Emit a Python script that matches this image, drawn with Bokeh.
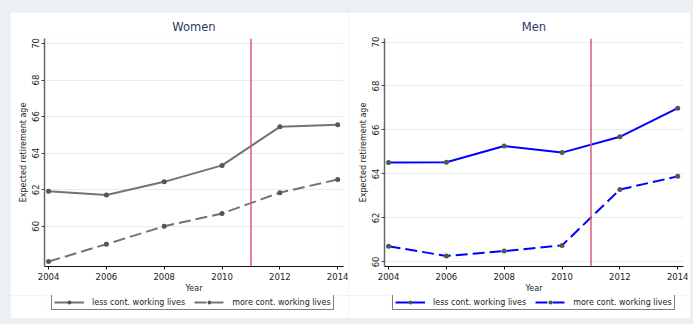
from bokeh.plotting import figure
from bokeh.models import FixedTicker, Legend, LegendItem, Span, Range1d, Spacer
from bokeh.layouts import row, column
from bokeh.embed import file_html
from bokeh.resources import INLINE

years = [2004, 2006, 2008, 2010, 2012, 2014]
women_less = [61.91, 61.71, 62.43, 63.33, 65.44, 65.55]
women_more = [58.07, 59.02, 60.00, 60.70, 61.84, 62.56]
men_less = [64.52, 64.53, 65.27, 64.97, 65.69, 66.99]
men_more = [60.71, 60.27, 60.49, 60.75, 63.29, 63.89]
y_ticks = [60, 62, 64, 66, 68, 70]
x_ticks = [2004, 2006, 2008, 2010, 2012, 2014]
reform_year = 2011
series_labels = ["less cont. working lives", "more cont. working lives"]

FONT = "DejaVu Sans"
BG = "#eaf0f3"
MARKER = "#555555"
DASH = "12 5"


def add_series(p, less, more, line_color):
    l1 = p.line(years, less, line_color=line_color, line_width=2)
    m1 = p.scatter(years, less, size=5, fill_color=MARKER, line_color=None)
    l2 = p.line(years, more, line_color=line_color, line_width=2, line_dash=DASH)
    m2 = p.scatter(years, more, size=5, fill_color=MARKER, line_color=None)
    return l1, m1, l2, m2


def make_panel(title, less, more, line_color, ylo, yhi, width, bl, br):
    p = figure(width=width, height=283, output_backend="svg", toolbar_location=None,
               x_range=Range1d(2003.86, 2014.2), y_range=Range1d(ylo, yhi),
               min_border_left=bl, min_border_right=br, min_border_top=24, min_border_bottom=17,
               background_fill_color="white", border_fill_color="white")
    p.outline_line_color = None
    p.title.text = title
    p.title.align = "center"
    p.title.text_font = FONT
    p.title.text_font_size = "11.5px"
    p.title.text_font_style = "normal"
    p.title.text_color = "#2b3768"

    p.xaxis.ticker = FixedTicker(ticks=x_ticks)
    p.yaxis.ticker = FixedTicker(ticks=y_ticks)
    p.xaxis.axis_label = "Year"
    p.yaxis.axis_label = "Expected retirement age"
    for ax in (p.xaxis[0], p.yaxis[0]):
        ax.major_label_text_font = FONT
        ax.major_label_text_font_size = "8.5px"
        ax.major_label_text_color = "#222222"
        ax.axis_label_text_font = FONT
        ax.axis_label_text_font_size = "8px"
        ax.axis_label_text_font_style = "normal"
        ax.axis_label_text_color = "#222222"
        ax.minor_tick_line_color = None
        ax.major_tick_out = 3
        ax.major_tick_in = 0
        ax.major_label_standoff = 3
        ax.axis_label_standoff = 1
    p.yaxis.major_label_standoff = 2
    p.yaxis.axis_label_standoff = 2
    p.xaxis.axis_line_color = "#111111"
    p.xaxis.major_tick_line_color = "#111111"
    p.yaxis.axis_line_color = "#666666"
    p.yaxis.axis_line_width = 1.5
    p.yaxis.major_tick_line_color = "#444444"
    p.yaxis.major_label_orientation = "vertical"
    p.xgrid.grid_line_color = None
    p.ygrid.grid_line_color = "#e4eeee"
    p.ygrid.ticker = FixedTicker(ticks=y_ticks)

    p.add_layout(Span(location=reform_year, dimension="height", line_color="#dc5a80", line_width=1.5))
    add_series(p, less, more, line_color)
    return p


def make_legend(less, more, line_color, width, leg_x):
    # series drawn out of view: only the legend of this strip is visible
    q = figure(width=width, height=23, output_backend="svg", toolbar_location=None,
               x_axis_location=None, y_axis_location=None,
               x_range=Range1d(0, 1), y_range=Range1d(0, 1),
               min_border_left=0, min_border_right=0, min_border_top=0, min_border_bottom=0,
               background_fill_color="white", border_fill_color="white")
    q.outline_line_color = None
    q.grid.grid_line_color = None
    l1, m1, l2, m2 = add_series(q, less, more, line_color)
    legend = Legend(items=[LegendItem(label=series_labels[0], renderers=[l1, m1]),
                           LegendItem(label=series_labels[1], renderers=[l2, m2])],
                    orientation="horizontal", location=(leg_x, 8),
                    label_text_font=FONT, label_text_font_size="8px",
                    label_text_color="#222222",
                    glyph_width=30, glyph_height=10, label_height=10,
                    label_standoff=8, spacing=9, padding=2, margin=0,
                    border_line_color="black", border_line_width=1,
                    background_fill_color="white")
    q.add_layout(legend, "center")
    return q


p1 = make_panel("Women", women_less, women_more, "#737373", 57.8, 70.27, 338, 34, 5)
p2 = make_panel("Men", men_less, men_more, "#0000ff", 59.79, 70.16, 342, 36, 7)
q1 = make_legend(women_less, women_more, "#737373", 338, 7)
q2 = make_legend(men_less, men_more, "#0000ff", 342, 8)

mid = row(Spacer(width=10, height=306), column(p1, q1, spacing=0), column(p2, q2, spacing=0),
          Spacer(width=3, height=306), spacing=0)
lay = column(Spacer(width=693, height=12), mid, Spacer(width=693, height=6), spacing=0,
             styles={"background-color": BG})

open("out.html", "w").write(file_html(lay, INLINE))
